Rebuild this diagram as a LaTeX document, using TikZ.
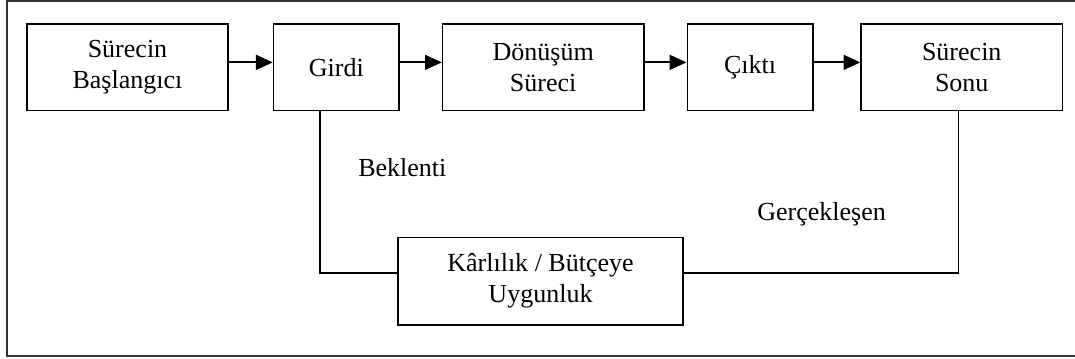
\documentclass[tikz,border=0pt]{standalone}
\usepackage{fontspec}
\setmainfont{Liberation Serif}
\usetikzlibrary{arrows.meta, positioning}
\definecolor{kenarRengi}{gray}{0}
\definecolor{cerceveRengi}{gray}{0.2}

\begin{document}
\begin{tikzpicture}[
  x=0.025cm, y=-0.025cm,
  font=\fontsize{18.5}{22}\selectfont,
  kutu/.style={draw=kenarRengi, line width=1pt, minimum height=2.17cm,
               align=center, inner sep=2pt},
  genis/.style={kutu, minimum width=5.03cm},
  dar/.style={kutu, minimum width=3.14cm},
  ok/.style={-{Triangle[length=12pt, width=10.5pt]}, draw=kenarRengi, line width=1.6pt},
  hat/.style={draw=kenarRengi, line width=1pt},
  etiket/.style={anchor=base west, inner sep=0pt},
  cerceve/.style={draw=cerceveRengi, line width=1.4pt}
]
\useasboundingbox (0,0) rectangle (1075,359);
\draw[cerceve] (1076,1.2) -- (6.7,1.2) -- (6.7,355.7) -- (1076,355.7);

\node[genis] (basla) at (127.5,67.3) {Sürecin\\Başlangıcı};
\node[dar, right=1.1cm of basla] (girdi) {Girdi};
\node[genis, right=1.05cm of girdi] (donusum) {Dönüşüm\\Süreci};
\node[dar, right=1.05cm of donusum] (cikti) {Çıktı};
\node[genis, right=1.17cm of cikti] (son) {Sürecin\\Sonu};

\draw[ok] ([yshift=3.5pt]basla.east) -- ([yshift=3.5pt]girdi.west);
\draw[ok] ([yshift=3.5pt]girdi.east) -- ([yshift=3.5pt]donusum.west);
\draw[ok] ([yshift=3.5pt]donusum.east) -- ([yshift=3.5pt]cikti.west);
\draw[ok] ([yshift=3.5pt]cikti.east) -- ([yshift=3.5pt]son.west);

\node[kutu, minimum width=7.13cm, minimum height=2.19cm] (karlilik) at (540.5,281.2) {Kârlılık / Bütçeye\\Uygunluk};

\coordinate (kb) at (320,273);
\coordinate (kg) at (958.3,273);
\draw[hat] (girdi.south -| kb) -- (kb) -- (karlilik.west |- kb);
\draw[hat] (son.south -| kg) -- (kg) -- (karlilik.east |- kg);

\node[etiket] (beklenti) at (358,176.7) {Beklenti};
\node[etiket] (gerceklesen) at (757,220.7) {Gerçekleşen};

\end{tikzpicture}
\end{document}
